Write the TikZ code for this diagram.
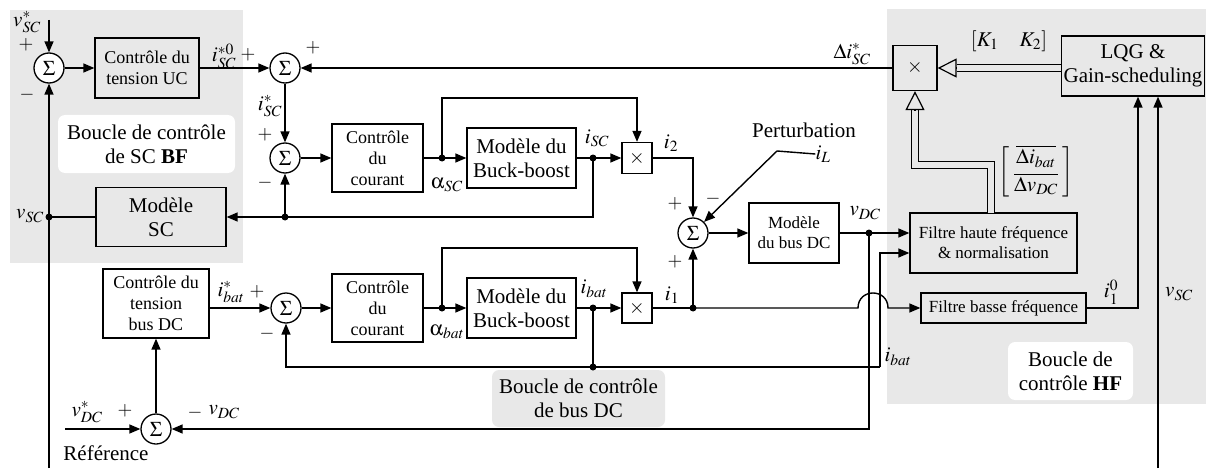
\documentclass[tikz,border=0pt]{standalone}
\usepackage{mathptmx}
\usepackage[Symbol]{upgreek}
\usepackage{fontspec}
\setmainfont{Liberation Serif}
\usepackage{tikz}
\usetikzlibrary{arrows.meta,calc,positioning}
\definecolor{zonegray}{RGB}{232,232,232}
\tikzset{
  block/.style={draw, line width=1.3pt, align=center, inner sep=1pt, font=\fontsize{18}{21}\selectfont},
  bigtxt/.style={font=\fontsize{21}{24}\selectfont},
  smalltxt/.style={font=\fontsize{17}{20}\selectfont},
  sumnode/.style={draw, circle, line width=1.3pt, minimum size=30pt, inner sep=0pt, fill=white, font=\fontsize{21}{24}\selectfont},
  mult/.style={draw, line width=1.3pt, inner sep=0pt, font=\fontsize{20}{22}\selectfont},
  lbl/.style={font=\fontsize{21}{24}\selectfont, inner sep=0pt},
  sgn/.style={font=\fontsize{19}{22}\selectfont, inner sep=0pt},
  zonelbl/.style={rounded corners=7pt, align=center, inner sep=0pt, font=\fontsize{21}{24}\selectfont},
  wire/.style={line width=1.4pt},
  dbl/.style={double=zonegray, double distance=6pt, line width=1.2pt, shorten >=19pt},
  dbltip/.style={line width=1.2pt, -{Triangle[open, length=19pt, width=19pt]}},
  >={Triangle[length=11pt,width=9pt]}
}
\begin{document}
\begin{tikzpicture}[x=1pt, y=-1pt]
  \useasboundingbox (0,0) rectangle (1206,468);
  % zones
  \fill[zonegray] (10,10) rectangle (243,263);
  \fill[zonegray] (887,9) rectangle (1206,404);
  \node[zonelbl, fill=white, minimum width=177pt, minimum height=58pt] (zoneBF) at (146.5,144) {Boucle de contrôle\\de SC \textbf{BF}};
  \node[zonelbl, fill=white, minimum width=125pt, minimum height=58pt] (zoneHF) at (1070.5,371) {Boucle de\\contrôle \textbf{HF}};
  \node[zonelbl, fill=zonegray, minimum width=173pt, minimum height=57pt] (zoneDC) at (578.5,398.5) {Boucle de contrôle\\de bus DC};

  % upper chain (SC)
  \node[sumnode] (s1) at (49,68) {$\Sigma$};
  \node[block, fill=zonegray, minimum width=104pt, minimum height=60pt] (ctlUC) at (147,68) {Contrôle du\\tension UC};
  \node[sumnode] (s2) at (285,68) {$\Sigma$};
  \node[sumnode] (s3) at (285,158) {$\Sigma$};
  \node[block, minimum width=91pt, minimum height=68pt] (ccSC) at (377.5,158) {Contrôle\\du\\courant};
  \node[block, bigtxt, minimum width=109pt, minimum height=60pt] (bbSC) at (521.5,158) {Modèle du\\Buck-boost};
  \node[mult, minimum width=30pt, minimum height=31pt] (mSC) at (637,158) {$\times$};
  \node[block, bigtxt, fill=zonegray, minimum width=130pt, minimum height=59pt] (mdlSC) at (161,217) {Modèle\\SC};

  % bus DC
  \node[sumnode] (s4) at (693,233) {$\Sigma$};
  \node[block, smalltxt, minimum width=90pt, minimum height=60pt] (bus) at (794,233) {Modèle\\du bus DC};

  % HF loop
  \node[block, smalltxt, fill=zonegray, minimum width=167pt, minimum height=60pt] (fHF) at (993.5,243) {Filtre haute fréquence\\\& normalisation};
  \node[mult, minimum width=44pt, minimum height=45pt] (mHF) at (915,68) {$\times$};
  \node[block, bigtxt, fill=zonegray, minimum width=143pt, minimum height=60pt] (lqg) at (1133,66) {LQG \&\\Gain-scheduling};
  \node[block, smalltxt, fill=zonegray, minimum width=165pt, minimum height=30pt] (fBF) at (1003.5,308) {Filtre basse fréquence};

  % lower chain (batterie)
  \node[block, minimum width=106pt, minimum height=69pt] (ctlDC) at (156,303.5) {Contrôle du\\tension\\bus DC};
  \node[sumnode] (s5) at (286,308) {$\Sigma$};
  \node[block, minimum width=91pt, minimum height=68pt] (ccBat) at (377.5,308) {Contrôle\\du\\courant};
  \node[block, bigtxt, minimum width=109pt, minimum height=60pt] (bbBat) at (521.5,308) {Modèle du\\Buck-boost};
  \node[mult, minimum width=30pt, minimum height=30pt] (mBat) at (637,308) {$\times$};
  \node[sumnode] (s6) at (156,429) {$\Sigma$};

  % junctions and free ends
  \coordinate (aSC) at (442,158);
  \coordinate (iSCd) at (593,158);
  \coordinate (fbSC) at (285,217);
  \coordinate (vscd) at (49,217);
  \coordinate (vDCd) at (869,233);
  \coordinate (aBat) at (442,308);
  \coordinate (iBatd) at (593,308);
  \coordinate (i1d) at (693,308);
  \coordinate (ibatfb) at (593,367);
  \coordinate (ibr) at (880,367);
  \coordinate (vscin) at (49,20);
  \coordinate (vscbot) at (49,468);
  \coordinate (vscbot2) at (1158,468);
  \coordinate (vdcin) at (65,429);
  \coordinate (pertk) at (777,151);
  \coordinate (hopA) at (858,308);
  \coordinate (hopB) at (888,308);
  \coordinate (hfout) at (991,213);

  % connectors
  \draw[wire,->] (vscin) -- (s1);
  \draw[wire,->] (s1) -- (ctlUC);
  \draw[wire,->] (ctlUC) -- (s2);
  \draw[wire,->] (mHF) -- (s2);
  \draw[wire,->] (s2) -- (s3);
  \draw[wire,->] (s3) -- (ccSC);
  \draw[wire] (ccSC) -- (aSC);
  \draw[wire,->] (aSC) -- (bbSC);
  \draw[wire,->] (aSC) -- (aSC |- 0,98) -| (mSC);
  \draw[wire] (bbSC) -- (iSCd);
  \draw[wire,->] (iSCd) -- (mSC);
  \draw[wire,->] (mSC) -| (s4);
  \draw[wire,->] (iSCd) |- (mdlSC);
  \draw[wire,->] (fbSC) -- (s3);
  \draw[wire] (mdlSC) -- (vscd);
  \draw[wire,->] (vscbot) -- (s1);

  \draw[wire,->] (s4) -- (bus);
  \draw[wire] (bus) -- (vDCd);
  \draw[wire,->] (vDCd) -- (vDCd -| fHF.west);
  \draw[wire,->] (vDCd) |- (s6);
  \draw[wire,->] (vdcin) -- (s6);
  \draw[wire,->] (s6) -- (ctlDC);

  \draw[wire,->] (ctlDC.east |- s5) -- (s5);
  \draw[wire,->] (s5) -- (ccBat);
  \draw[wire] (ccBat) -- (aBat);
  \draw[wire,->] (aBat) -- (bbBat);
  \draw[wire,->] (aBat) -- (aBat |- 0,248) -| (mBat);
  \draw[wire] (bbBat) -- (iBatd);
  \draw[wire,->] (iBatd) -- (mBat);
  \draw[wire] (mBat) -- (i1d);
  \draw[wire,->] (i1d) -- (s4);
  \draw[wire,->] (i1d) -- (hopA) .. controls (858,288) and (888,288) .. (hopB) -- (fBF);
  \draw[wire] (iBatd) -- (ibatfb);
  \draw[wire,->] (ibr) -| (s5);
  \draw[wire,->] (ibr) |- (fHF.west |- 0,253);

  \draw[wire,->] (fBF) -| (lqg.south -| 1138,0);
  \draw[wire,->] (vscbot2) -- (vscbot2 |- lqg.south);
  % gain and normalised signals (double lines)
  \draw[dbl] (mHF.east -| lqg.west) -- (mHF);
  \draw[dbltip] ([xshift=19pt]mHF.east) -- (mHF.east);
  \draw[dbl] (hfout) -- (hfout |- 0,165) -| (mHF);
  \draw[dbltip] ([yshift=-19pt]mHF.south) -- (mHF.south);

  \foreach \p in {aSC,iSCd,fbSC,vscd,vDCd,aBat,iBatd,i1d,ibatfb}
    \fill (\p) circle (3.5);

  % perturbation
  \node[bigtxt, inner sep=0pt] (pert) at (804,130) {Perturbation};
  \node[lbl] (iL) at (823,154) {$i_{L}$};
  \draw[wire,->] (iL.west) -- (pertk) -- (s4.45);

  % signal labels
  \node[lbl] (lvscs) at (27,22) {$v_{SC}^{*}$};
  \node[sgn] at (26,45) {$+$};
  \node[sgn] at (27,95) {$-$};
  \node[lbl] (lisc0) at (224,56) {$i_{SC}^{*0}$};
  \node[sgn] at (248,55) {$+$};
  \node[sgn] at (313,48) {$+$};
  \node[lbl] (liscs) at (270,106) {$i_{SC}^{*}$};
  \node[sgn] at (265,135) {$+$};
  \node[sgn] at (265,183) {$-$};
  \node[lbl] (lasc) at (447,185) {$\upalpha_{SC}$};
  \node[lbl] (lisc) at (597,138) {$i_{SC}$};
  \node[lbl] (li2) at (671,143) {$i_{2}$};
  \node[sgn] at (675,204) {$+$};
  \node[sgn] at (713,199) {$-$};
  \node[sgn] at (675,262) {$+$};
  \node[lbl] (lvsc) at (30,216) {$v_{SC}$};
  \node[lbl] (lvdc) at (865,213) {$v_{DC}$};
  \node[lbl] (ldisc) at (852,54) {$\Delta i_{SC}^{*}$};
  \node[lbl] (lk) at (1009,41) {$\left[K_{1}\quad K_{2}\right]$};
  \node[lbl] (lmat) at (1036,172) {$\left[\begin{array}{c}\overline{\Delta i_{bat}}\\[2pt]\overline{\Delta v_{DC}}\end{array}\right]$};
  \node[lbl] (libats) at (231,292) {$i_{bat}^{*}$};
  \node[sgn] at (257,292) {$+$};
  \node[sgn] at (267,334) {$-$};
  \node[lbl] (labat) at (447,332) {$\upalpha_{bat}$};
  \node[lbl] (libat) at (594,289) {$i_{bat}$};
  \node[lbl] (li1) at (672,295) {$i_{1}$};
  \node[lbl] (libat2) at (898,357) {$i_{bat}$};
  \node[lbl] (li10) at (1111,292) {$i_{1}^{0}$};
  \node[lbl] (lvsc2) at (1179,294) {$v_{SC}$};
  \node[lbl] (lvdcs) at (87,412) {$v_{DC}^{*}$};
  \node[sgn] at (125,411) {$+$};
  \node[sgn] at (195,413) {$-$};
  \node[lbl] (lvdc2) at (224,412) {$v_{DC}$};
  \node[bigtxt, inner sep=0pt] (ref) at (106,453) {Référence};
\end{tikzpicture}
\end{document}
